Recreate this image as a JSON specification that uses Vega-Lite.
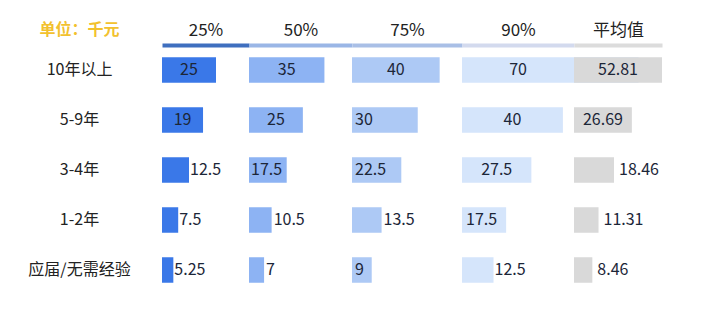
{
  "$schema": "https://vega.github.io/schema/vega-lite/v6.json",
  "padding": {"left": 27, "top": 21, "right": 5, "bottom": 5},
  "bounds": "flush",
  "config": {
    "font": "Noto Sans CJK SC",
    "view": {"stroke": null},
    "text": {"fontSize": 16, "color": "#1c2638", "baseline": "middle"},
    "axis": {"grid": false}
  },
  "data": {
    "values": [
      {"exp": "10年以上", "col": "25%", "v": 25},
      {"exp": "5-9年", "col": "25%", "v": 19},
      {"exp": "3-4年", "col": "25%", "v": 12.5},
      {"exp": "1-2年", "col": "25%", "v": 7.5},
      {"exp": "应届/无需经验", "col": "25%", "v": 5.25},
      {"exp": "10年以上", "col": "50%", "v": 35},
      {"exp": "5-9年", "col": "50%", "v": 25},
      {"exp": "3-4年", "col": "50%", "v": 17.5},
      {"exp": "1-2年", "col": "50%", "v": 10.5},
      {"exp": "应届/无需经验", "col": "50%", "v": 7},
      {"exp": "10年以上", "col": "75%", "v": 40},
      {"exp": "5-9年", "col": "75%", "v": 30},
      {"exp": "3-4年", "col": "75%", "v": 22.5},
      {"exp": "1-2年", "col": "75%", "v": 13.5},
      {"exp": "应届/无需经验", "col": "75%", "v": 9},
      {"exp": "10年以上", "col": "90%", "v": 70},
      {"exp": "5-9年", "col": "90%", "v": 40},
      {"exp": "3-4年", "col": "90%", "v": 27.5},
      {"exp": "1-2年", "col": "90%", "v": 17.5},
      {"exp": "应届/无需经验", "col": "90%", "v": 12.5},
      {"exp": "10年以上", "col": "平均值", "v": 52.81},
      {"exp": "5-9年", "col": "平均值", "v": 26.69},
      {"exp": "3-4年", "col": "平均值", "v": 18.46},
      {"exp": "1-2年", "col": "平均值", "v": 11.31},
      {"exp": "应届/无需经验", "col": "平均值", "v": 8.46}
    ]
  },
  "spacing": 0,
  "hconcat": [
    {
      "width": 87, "height": 250,
      "transform": [{"filter": "datum.col === '25%'"}],
      "encoding": {
        "y": {"field": "exp", "type": "nominal", "sort": ["10年以上", "5-9年", "3-4年", "1-2年", "应届/无需经验"],
          "scale": {"paddingInner": 0.49, "paddingOuter": 0.245},
          "axis": {"title": "单位：千元", "titleAngle": 0, "titleX": -83, "titleY": -16, "titleAlign": "center", "titleBaseline": "middle", "titleColor": "#f2c12e", "titleFontWeight": "bold", "titleFontSize": 16, "labelAlign": "center", "labelPadding": 83, "ticks": false, "tickSize": 0, "domain": false, "labelFontSize": 16, "labelColor": "#222222"}}
      },
      "layer": [
        {"mark": {"type": "bar", "color": "#3a78e8"},
         "encoding": {"x": {"field": "v", "type": "quantitative", "scale": {"domain": [0, 40.28], "nice": false}, "axis": {"orient": "top", "title": "25%", "titleFontSize": 17, "titleFontWeight": "normal", "titleColor": "#222222", "titlePadding": 6, "labels": false, "ticks": false, "domainColor": "#3f6fbf", "domainWidth": 4}}}},
        {"transform": [{"filter": "datum.v < 19"}],
         "mark": {"type": "text", "align": "left", "dx": 1},
         "encoding": {"x": {"field": "v", "type": "quantitative", "scale": {"domain": [0, 40.28], "nice": false}, "axis": null}, "text": {"field": "v", "type": "nominal"}}},
        {"transform": [{"filter": "datum.v >= 19"}],
         "mark": {"type": "text", "align": "center"},
         "encoding": {"x": {"field": "v", "type": "quantitative", "scale": {"domain": [0, 40.28], "range": [0, 43.5], "clamp": true, "nice": false}, "axis": null}, "text": {"field": "v", "type": "nominal"}}}
      ],
      "resolve": {"scale": {"x": "independent"}}
    },
    {
      "width": 103, "height": 250,
      "transform": [{"filter": "datum.col === '50%'"}],
      "encoding": {
        "y": {"field": "exp", "type": "nominal", "sort": ["10年以上", "5-9年", "3-4年", "1-2年", "应届/无需经验"],
          "scale": {"paddingInner": 0.49, "paddingOuter": 0.245}, "axis": null}
      },
      "layer": [
        {"mark": {"type": "bar", "color": "#8db3f3"},
         "encoding": {"x": {"field": "v", "type": "quantitative", "scale": {"domain": [0, 47.8], "nice": false}, "axis": {"orient": "top", "title": "50%", "titleFontSize": 17, "titleFontWeight": "normal", "titleColor": "#222222", "titlePadding": 6, "labels": false, "ticks": false, "domainColor": "#9ab6e6", "domainWidth": 4}}}},
        {"transform": [{"filter": "datum.v <= 10.5"}],
         "mark": {"type": "text", "align": "left", "dx": 2},
         "encoding": {"x": {"field": "v", "type": "quantitative", "scale": {"domain": [0, 47.8], "nice": false}, "axis": null}, "text": {"field": "v", "type": "nominal"}}},
        {"transform": [{"filter": "datum.v === 17.5"}],
         "mark": {"type": "text", "align": "left", "dx": 2},
         "encoding": {"x": {"datum": 0, "type": "quantitative", "scale": {"domain": [0, 47.8], "nice": false}, "axis": null}, "text": {"field": "v", "type": "nominal"}}},
        {"transform": [{"filter": "datum.v >= 25"}],
         "mark": {"type": "text", "align": "center"},
         "encoding": {"x": {"field": "v", "type": "quantitative", "scale": {"domain": [0, 47.8], "range": [0, 51.5], "clamp": true, "nice": false}, "axis": null}, "text": {"field": "v", "type": "nominal"}}}
      ],
      "resolve": {"scale": {"x": "independent"}}
    },
    {
      "width": 110, "height": 250,
      "transform": [{"filter": "datum.col === '75%'"}],
      "encoding": {
        "y": {"field": "exp", "type": "nominal", "sort": ["10年以上", "5-9年", "3-4年", "1-2年", "应届/无需经验"],
          "scale": {"paddingInner": 0.49, "paddingOuter": 0.245}, "axis": null}
      },
      "layer": [
        {"mark": {"type": "bar", "color": "#adc9f5"},
         "encoding": {"x": {"field": "v", "type": "quantitative", "scale": {"domain": [0, 50.2], "nice": false}, "axis": {"orient": "top", "title": "75%", "titleFontSize": 17, "titleFontWeight": "normal", "titleColor": "#222222", "titlePadding": 6, "labels": false, "ticks": false, "domainColor": "#a9bfe6", "domainWidth": 4}}}},
        {"transform": [{"filter": "datum.v === 13.5"}],
         "mark": {"type": "text", "align": "left", "dx": 2},
         "encoding": {"x": {"field": "v", "type": "quantitative", "scale": {"domain": [0, 50.2], "nice": false}, "axis": null}, "text": {"field": "v", "type": "nominal"}}},
        {"transform": [{"filter": "datum.v === 30 || datum.v === 22.5 || datum.v === 9"}],
         "mark": {"type": "text", "align": "left", "dx": 3},
         "encoding": {"x": {"datum": 0, "type": "quantitative", "scale": {"domain": [0, 50.2], "nice": false}, "axis": null}, "text": {"field": "v", "type": "nominal"}}},
        {"transform": [{"filter": "datum.v === 40"}],
         "mark": {"type": "text", "align": "center"},
         "encoding": {"x": {"field": "v", "type": "quantitative", "scale": {"domain": [0, 50.2], "range": [0, 55], "clamp": true, "nice": false}, "axis": null}, "text": {"field": "v", "type": "nominal"}}}
      ],
      "resolve": {"scale": {"x": "independent"}}
    },
    {
      "width": 112, "height": 250,
      "transform": [{"filter": "datum.col === '90%'"}],
      "encoding": {
        "y": {"field": "exp", "type": "nominal", "sort": ["10年以上", "5-9年", "3-4年", "1-2年", "应届/无需经验"],
          "scale": {"paddingInner": 0.49, "paddingOuter": 0.245}, "axis": null}
      },
      "layer": [
        {"mark": {"type": "bar", "color": "#d5e5fb"},
         "encoding": {"x": {"field": "v", "type": "quantitative", "scale": {"domain": [0, 44.4], "nice": false}, "axis": {"orient": "top", "title": "90%", "titleFontSize": 17, "titleFontWeight": "normal", "titleColor": "#222222", "titlePadding": 6, "labels": false, "ticks": false, "domainColor": "#d3daee", "domainWidth": 4}}}},
        {"transform": [{"filter": "datum.v === 12.5"}],
         "mark": {"type": "text", "align": "left", "dx": 1},
         "encoding": {"x": {"field": "v", "type": "quantitative", "scale": {"domain": [0, 44.4], "nice": false}, "axis": null}, "text": {"field": "v", "type": "nominal"}}},
        {"transform": [{"filter": "datum.v === 17.5"}],
         "mark": {"type": "text", "align": "left", "dx": 4},
         "encoding": {"x": {"datum": 0, "type": "quantitative", "scale": {"domain": [0, 44.4], "nice": false}, "axis": null}, "text": {"field": "v", "type": "nominal"}}},
        {"transform": [{"filter": "datum.v >= 27.5"}],
         "mark": {"type": "text", "align": "center"},
         "encoding": {"x": {"field": "v", "type": "quantitative", "scale": {"domain": [0, 44.4], "range": [0, 56], "clamp": true, "nice": false}, "axis": null}, "text": {"field": "v", "type": "nominal"}}}
      ],
      "resolve": {"scale": {"x": "independent"}}
    },
    {
      "width": 88, "height": 250,
      "transform": [{"filter": "datum.col === '平均值'"}],
      "encoding": {
        "y": {"field": "exp", "type": "nominal", "sort": ["10年以上", "5-9年", "3-4年", "1-2年", "应届/无需经验"],
          "scale": {"paddingInner": 0.49, "paddingOuter": 0.245}, "axis": null}
      },
      "layer": [
        {"mark": {"type": "bar", "color": "#d9d9d9", "clip": true},
         "encoding": {"x": {"field": "v", "type": "quantitative", "scale": {"domain": [0, 40.6], "nice": false}, "axis": {"orient": "top", "title": "平均值", "titleFontSize": 17, "titleFontWeight": "normal", "titleColor": "#222222", "titlePadding": 6, "labels": false, "ticks": false, "domainColor": "#dcdcdc", "domainWidth": 4}}}},
        {"transform": [{"filter": "datum.v < 20"}],
         "mark": {"type": "text", "align": "left", "dx": 5},
         "encoding": {"x": {"field": "v", "type": "quantitative", "scale": {"domain": [0, 40.6], "nice": false}, "axis": null}, "text": {"field": "v", "type": "nominal"}}},
        {"transform": [{"filter": "datum.v >= 20"}],
         "mark": {"type": "text", "align": "center"},
         "encoding": {"x": {"field": "v", "type": "quantitative", "scale": {"domain": [0, 40.6], "range": [0, 44], "clamp": true, "nice": false}, "axis": null}, "text": {"field": "v", "type": "nominal"}}}
      ],
      "resolve": {"scale": {"x": "independent"}}
    }
  ]
}
